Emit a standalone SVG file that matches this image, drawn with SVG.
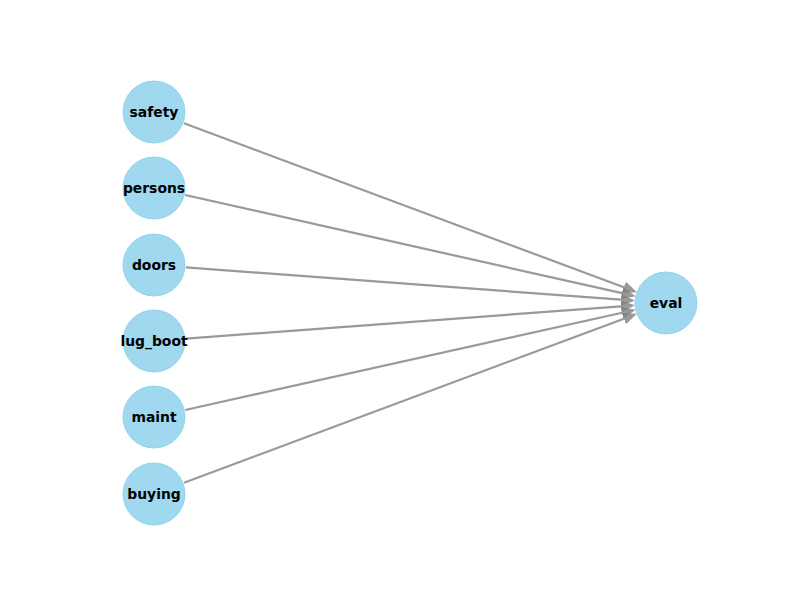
<svg xmlns="http://www.w3.org/2000/svg" width="800" height="600" viewBox="0 0 800 600">
<style>
.edge{stroke:#808080;stroke-opacity:0.8;stroke-width:2.2;fill:none;marker-end:url(#ah)}
.node circle{fill:#87ceeb;fill-opacity:0.8;stroke:#87ceeb;stroke-opacity:0.8;stroke-width:1}
.node text{font-family:"DejaVu Sans",sans-serif;font-weight:bold;font-size:13.9px;fill:#000;text-anchor:middle;dominant-baseline:central}
</style>
<defs>
<marker id="ah" viewBox="0 -7 14 14" markerWidth="14" markerHeight="14" refX="0" refY="0" orient="auto" markerUnits="userSpaceOnUse">
<path d="M0,-6 L14,0 L0,6 z" fill="#808080" fill-opacity="0.8"/>
</marker>
</defs>
<rect width="800" height="600" fill="#fff"/>
<g id="edges">
<line class="edge" x1="184" y1="123.2" x2="623.84" y2="287.28"/>
<line class="edge" x1="185.2" y1="195" x2="622.09" y2="293.13"/>
<line class="edge" x1="185.9" y1="267.4" x2="621.12" y2="299.66"/>
<line class="edge" x1="185.9" y1="338.6" x2="621.12" y2="306.34"/>
<line class="edge" x1="185.2" y1="410" x2="622.09" y2="312.74"/>
<line class="edge" x1="184" y1="482.8" x2="623.84" y2="318.72"/>
</g>
<g id="safety" class="node"><circle cx="154" cy="112" r="31"/><text x="154" y="111.5">safety</text></g>
<g id="persons" class="node"><circle cx="154" cy="188" r="31"/><text x="154" y="187.5">persons</text></g>
<g id="doors" class="node"><circle cx="154" cy="265" r="31"/><text x="154" y="264.5">doors</text></g>
<g id="lug_boot" class="node"><circle cx="154" cy="341" r="31"/><text x="154" y="340.5">lug_boot</text></g>
<g id="maint" class="node"><circle cx="154" cy="417" r="31"/><text x="154" y="416.5">maint</text></g>
<g id="buying" class="node"><circle cx="154" cy="494" r="31"/><text x="154" y="493.5">buying</text></g>
<g id="eval" class="node"><circle cx="666" cy="303" r="31"/><text x="666" y="302.5">eval</text></g>
</svg>
